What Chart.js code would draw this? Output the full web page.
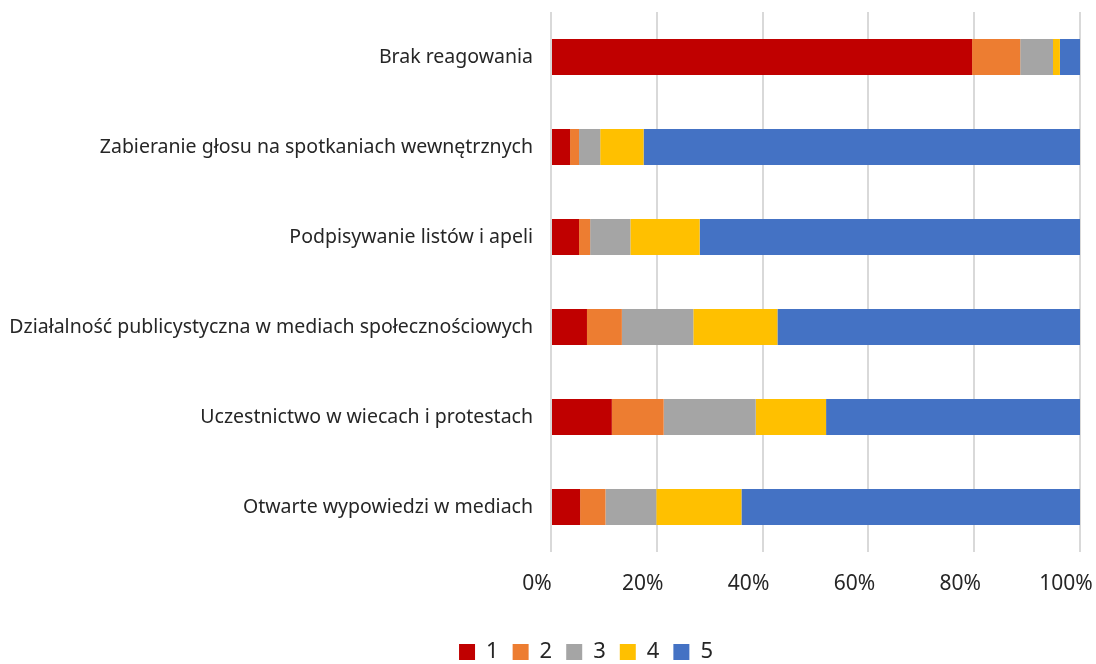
<!DOCTYPE html>
<html>
<head>
<meta charset="utf-8">
<script src="https://cdn.jsdelivr.net/npm/chart.js@4.4.1/dist/chart.umd.min.js"></script>
<style>
  html, body { margin: 0; padding: 0; background: #fff; }
</style>
</head>
<body>
<canvas id="chart" width="1096" height="664"></canvas>
<script>
const categories = [
  'Brak reagowania',
  'Zabieranie głosu na spotkaniach wewnętrznych',
  'Podpisywanie listów i apeli',
  'Działalność publicystyczna w mediach społecznościowych',
  'Uczestnictwo w wiecach i protestach',
  'Otwarte wypowiedzi w mediach'
]
const seriesNames = ['1', '2', '3', '4', '5']
const colors = ['#c00000', '#ed7d31', '#a5a5a5', '#ffc000', '#4472c4']

// percent shares per answer, same order as categories
const s1 = [79.6, 3.6, 5.3, 6.8, 11.5, 5.5]
const s2 = [9.1, 1.7, 2.1, 6.6, 9.8, 4.8]
const s3 = [6.2, 4.0, 7.6, 13.5, 17.4, 9.6]
const s4 = [1.3, 8.2, 13.1, 15.9, 13.3, 16.1]
const s5 = [3.8, 82.5, 71.9, 57.2, 48.0, 64.0]
const xTicks = [0, 20, 40, 60, 80, 100]

const series = [s1, s2, s3, s4, s5]
const textColor = '#262626'
const fontFamily = "'Noto Sans', 'Open Sans', sans-serif"

// the legend in the original sits a bit right of the canvas centre
const legendShift = {
  id: 'legendShift',
  afterLayout(chart) {
    chart.legend.left += 46
    chart.legend.right += 46
  }
}

new Chart(document.getElementById('chart'), {
  type: 'bar',
  data: {
    labels: categories,
    datasets: series.map((vals, i) => ({
      label: seriesNames[i],
      data: vals,
      backgroundColor: colors[i],
      borderWidth: 0,
      categoryPercentage: 1,
      barPercentage: 0.4
    }))
  },
  options: {
    indexAxis: 'y',
    responsive: false,
    animation: false,
    layout: { padding: { top: 12, right: 16, left: 0, bottom: 0 } },
    scales: {
      x: {
        stacked: true,
        min: 0,
        max: 100,
        afterBuildTicks: (scale) => { scale.ticks = xTicks.map(v => ({ value: v })) },
        grid: { color: '#d9d9d9', lineWidth: 2, drawTicks: false },
        border: { display: false },
        ticks: {
          color: textColor,
          font: { family: fontFamily, size: 21 },
          padding: 19,
          labelOffset: -14,
          callback: (v) => v + '%'
        },
        afterFit: (scale) => {
          scale.height = 75
          scale.paddingLeft = 0
          scale.paddingRight = 0
        }
      },
      y: {
        stacked: true,
        grid: { display: false, drawTicks: false },
        border: { display: false },
        ticks: {
          color: textColor,
          font: { family: fontFamily, size: 19.5 },
          padding: 18
        },
        afterFit: (scale) => {
          scale.width = 551
          scale.paddingTop = 0
          scale.paddingBottom = 0
        }
      }
    },
    plugins: {
      legend: {
        position: 'bottom',
        maxHeight: 37,
        labels: {
          color: textColor,
          font: { family: fontFamily, size: 22 },
          boxWidth: 16,
          boxHeight: 16,
          padding: 14
        }
      },
      tooltip: { enabled: false }
    }
  },
  plugins: [legendShift]
})
</script>
</body>
</html>
